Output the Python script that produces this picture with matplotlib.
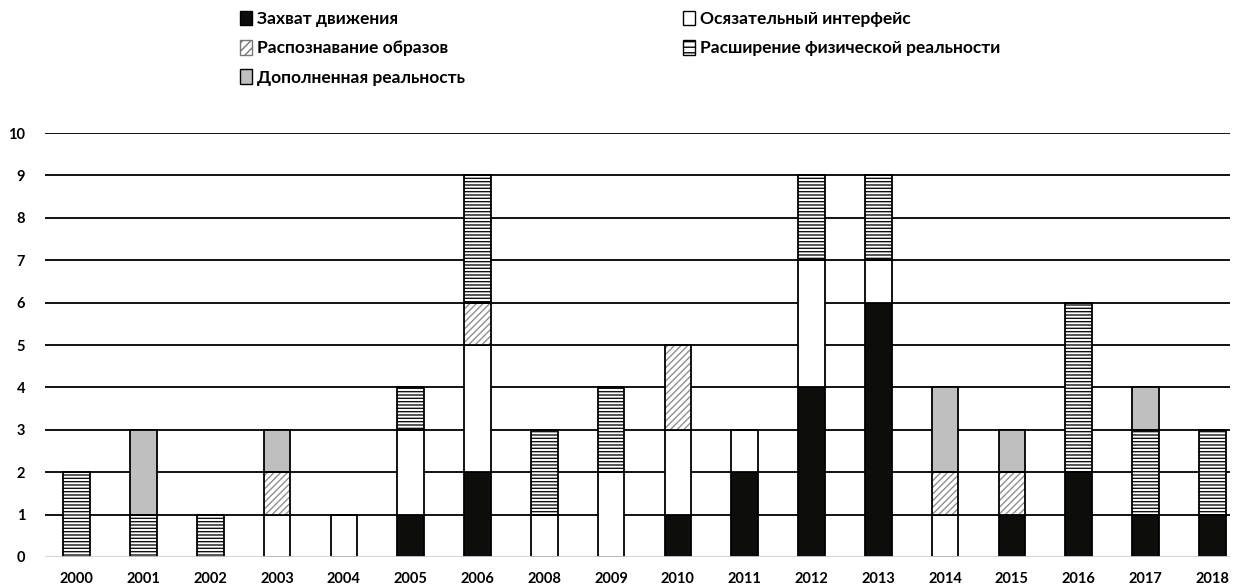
import matplotlib
matplotlib.use('Agg')
import matplotlib.pyplot as plt
from matplotlib.patches import Patch
import numpy as np

years = ['2000', '2001', '2002', '2003', '2004', '2005', '2006', '2008', '2009',
         '2010', '2011', '2012', '2013', '2014', '2015', '2016', '2017', '2018']

motion_capture = [0, 0, 0, 0, 0, 1, 2, 0, 0, 1, 2, 4, 6, 0, 1, 2, 1, 1]
tactile = [0, 0, 0, 1, 1, 2, 3, 1, 2, 2, 1, 3, 1, 1, 0, 0, 0, 0]
recognition = [0, 0, 0, 1, 0, 0, 1, 0, 0, 2, 0, 0, 0, 1, 1, 0, 0, 0]
extension = [2, 1, 1, 0, 0, 1, 3, 2, 2, 0, 0, 2, 2, 0, 0, 4, 2, 2]
augmented = [0, 2, 0, 1, 0, 0, 0, 0, 0, 0, 0, 0, 0, 2, 1, 0, 1, 0]

names = ['Захват движения', 'Осязательный интерфейс', 'Распознавание образов',
         'Расширение физической реальности', 'Дополненная реальность']

plt.rcParams['font.family'] = ['Lato', 'DejaVu Sans']
plt.rcParams['font.weight'] = 'bold'

fig = plt.figure(figsize=(12.39, 5.86), dpi=100)
ax = fig.add_axes([0.036, 0.0495, 0.957, 0.7235])

x = np.arange(len(years))
w = 0.4
bottom = np.zeros(len(years))

series = [
    (motion_capture, dict(color='#0d0e0c')),
    (tactile, dict(color='white')),
    (recognition, dict(color='white', hatch='/////', hcolor='#8f8f8f')),
    (extension, dict(color='white', hatch='-----', hcolor='#111111')),
    (augmented, dict(color='#bfbfbf')),
]

for vals, st in series:
    vals = np.array(vals, dtype=float)
    if 'hatch' in st:
        plt.rcParams['hatch.linewidth'] = 1.0
        ax.bar(x, vals, w, bottom=bottom, color=st['color'], hatch=st['hatch'],
               edgecolor=st['hcolor'], linewidth=0, zorder=2)
        ax.bar(x, vals, w, bottom=bottom, fill=False, edgecolor='black',
               linewidth=1.3, zorder=3)
    else:
        ax.bar(x, vals, w, bottom=bottom, color=st['color'], edgecolor='black',
               linewidth=1.3, zorder=2)
    bottom += vals

ax.set_xlim(-0.48, 17.27)
ax.set_ylim(0, 10)
ax.set_yticks(range(0, 11))
ax.set_xticks(x)
ax.set_xticklabels(years)
for yv in range(1, 11):
    ax.axhline(yv, color='black', linewidth=1.3, zorder=1)
ax.axhline(0, color='#d0d0d0', linewidth=2, zorder=4)

for s in ax.spines.values():
    s.set_visible(False)
ax.tick_params(length=0, labelsize=10.5)
ax.tick_params(axis='x', pad=11)
ax.tick_params(axis='y', pad=14)

handles = [
    Patch(facecolor='#0d0e0c', edgecolor='black', label=names[0]),
    Patch(facecolor='white', edgecolor='#777777', hatch='////', label=names[2]),
    Patch(facecolor='#bfbfbf', edgecolor='black', label=names[4]),
    Patch(facecolor='white', edgecolor='black', label=names[1]),
    Patch(facecolor='white', edgecolor='black', hatch='---', label=names[3]),
]
fig.legend(handles=handles, ncol=2, loc='upper left', bbox_to_anchor=(0.181, 1.008),
           frameon=False, handlelength=0.7, handleheight=0.9,
           handletextpad=0.3, columnspacing=12.55, labelspacing=0.75,
           prop={'weight': 'bold', 'size': 12.5})

fig.savefig('out.png', dpi=100)
